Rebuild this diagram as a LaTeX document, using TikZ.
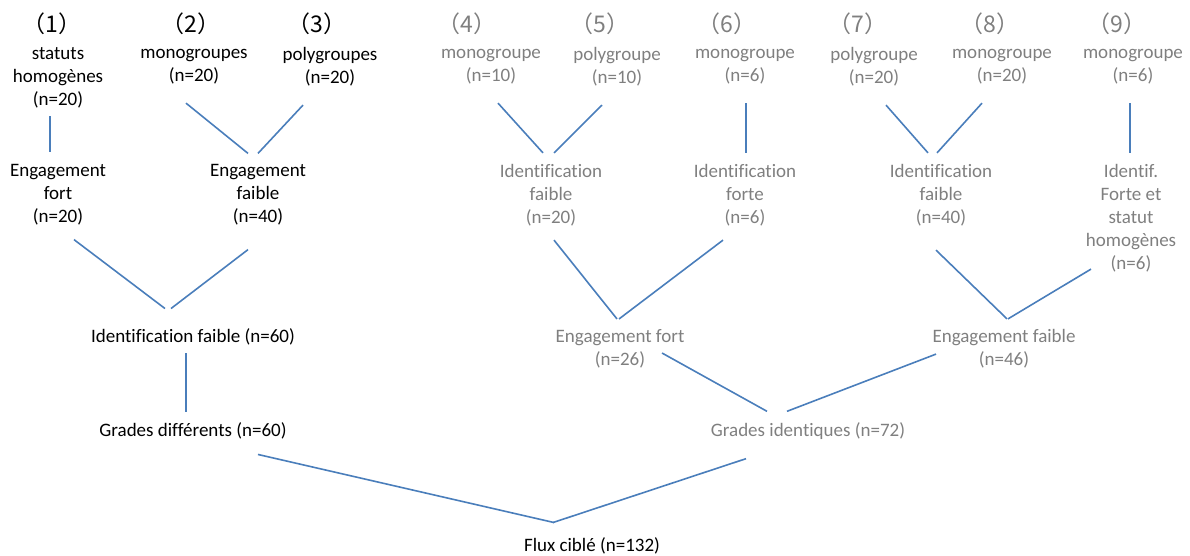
\documentclass[tikz,border=0pt]{standalone}
\usepackage{fontspec}
\setmainfont{Carlito}[Ligatures=NoCommon]
\newfontfamily\cjk{Noto Sans CJK SC}
\definecolor{lienbleu}{RGB}{74,126,187}
\definecolor{gristxt}{RGB}{127,127,127}
\begin{document}
\begin{tikzpicture}[x=1pt, y=-1pt,
    lbl/.style={align=center, inner sep=0pt, yshift=-2pt, font=\fontsize{19}{23}\selectfont},
    gris/.style={lbl, text=gristxt},
    num/.style={inner sep=0pt, font=\cjk\fontsize{23}{23}\selectfont},
    lien/.style={draw=lienbleu, line width=1.6pt}]
    \useasboundingbox (0,0) rectangle (1190,556);
    % numeros
    \foreach \k/\xx/\cc in {1/52/black, 2/191/black, 3/317/black, 4/467/gristxt, 5/600/gristxt,
        6/727/gristxt, 7/858/gristxt, 8/990/gristxt, 9/1117/gristxt}
        \node[num, text=\cc] (c\k) at (\xx,24) {（\k）};
    % groupes
    \node[lbl]  (s1) at (58,75.5) {statuts\\homogènes\\(n=20)};
    \node[lbl]  (s2) at (194,65) {monogroupes\\(n=20)};
    \node[lbl]  (s3) at (330,65) {polygroupes\\(n=20)};
    \node[gris] (s4) at (491,65) {monogroupe\\(n=10)};
    \node[gris] (s5) at (617,65) {polygroupe\\(n=10)};
    \node[gris] (s6) at (745,65) {monogroupe\\(n=6)};
    \node[gris] (s7) at (874,65) {polygroupe\\(n=20)};
    \node[gris] (s8) at (1002,65) {monogroupe\\(n=20)};
    \node[gris] (s9) at (1133,65) {monogroupe\\(n=6)};
    % niveau 2
    \node[lbl]  (ef1) at (58,193) {Engagement\\fort\\(n=20)};
    \node[lbl]  (ef2) at (258,193) {Engagement\\faible\\(n=40)};
    \node[gris] (id1) at (551,193) {Identification\\faible\\(n=20)};
    \node[gris] (id2) at (745,193) {Identification\\forte\\(n=6)};
    \node[gris] (id3) at (941,193) {Identification\\faible\\(n=40)};
    \node[gris] (id4) at (1131,216) {Identif.\\Forte et\\statut\\homogènes\\(n=6)};
    % niveau 3
    \node[lbl]  (idf) at (193,335) {Identification faible (n=60)};
    \node[gris] (egf) at (620,347) {Engagement fort\\(n=26)};
    \node[gris] (egb) at (1004,347) {Engagement faible\\(n=46)};
    % niveau 4
    \node[lbl]  (gd) at (193,429) {Grades différents (n=60)};
    \node[gris] (gi) at (808,429) {Grades identiques (n=72)};
    \node[lbl]  (flux) at (592,544) {Flux ciblé (n=132)};

    \draw[lien] ([shift={(-8,8)}]s1.south) -- ([shift={(-8,-12)}]ef1.north);
    \draw[lien] ([shift={(-8,18.5)}]s2.south) -- ([shift={(-10,-11)}]ef2.north);
    \draw[lien] ([shift={(-27,18.5)}]s3.south) -- ([shift={(0,-11)}]ef2.north);
    \draw[lien] ([shift={(7,18.5)}]s4.south) -- ([shift={(-8,-11)}]id1.north);
    \draw[lien] ([shift={(-15,18.5)}]s5.south) -- ([shift={(3,-11)}]id1.north);
    \draw[lien] ([shift={(1,18.5)}]s6.south) -- ([shift={(1,-11)}]id2.north);
    \draw[lien] ([shift={(12,18.5)}]s7.south) -- ([shift={(-13,-11)}]id3.north);
    \draw[lien] ([shift={(-20,18.5)}]s8.south) -- ([shift={(-4,-11)}]id3.north);
    \draw[lien] ([shift={(-3,18.5)}]s9.south) -- ([shift={(-1,-11)}]id4.north);

    \draw[lien] ([shift={(16,14)}]ef1.south) -- ([shift={(-28,-20)}]idf.north);
    \draw[lien] ([shift={(-10,24)}]ef2.south) -- ([shift={(-22,-20)}]idf.north);
    \draw[lien] ([shift={(3,14)}]id1.south) -- ([shift={(-3,-10.5)}]egf.north);
    \draw[lien] ([shift={(-22,14)}]id2.south) -- ([shift={(-1,-10.5)}]egf.north);
    \draw[lien] ([shift={(-5,24)}]id3.south) -- ([shift={(3,-10.5)}]egb.north);
    \draw[lien] ([shift={(-40,-3)}]id4.south) -- ([shift={(4,-10.5)}]egb.north);

    \draw[lien] ([shift={(-7,8)}]idf.south) -- ([shift={(-7,-11)}]gd.north);
    \draw[lien] ([shift={(42,-15.5)}]egf.south) -- ([shift={(-41,-11)}]gi.north);
    \draw[lien] ([shift={(-68,-14.5)}]egb.south) -- ([shift={(-21,-11)}]gi.north);

    \draw[lien] ([shift={(65,15)}]gd.south) -- ([shift={(-38,-15)}]flux.north);
    \draw[lien] ([shift={(-62,19)}]gi.south) -- ([shift={(-39,-15)}]flux.north);
\end{tikzpicture}
\end{document}
